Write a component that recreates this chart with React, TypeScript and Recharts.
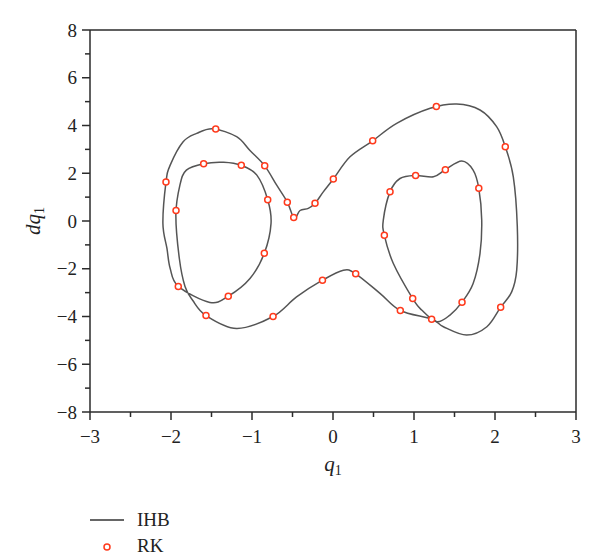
import { ScatterChart, Scatter, XAxis, YAxis, ReferenceLine } from 'recharts'

// phase portrait q1 vs dq1 — IHB solution (line) and RK samples (circles)
const MAIN_LOOP: [number, number][] = [
  [-1.48, 3.86], [-1.19, 3.53], [-1.025, 2.95], [-0.843, 2.31], [-0.695, 1.5],
  [-0.564, 0.79], [-0.48, 0.12], [-0.407, 0.44], [-0.305, 0.53], [-0.222, 0.74],
  [-0.12, 1.22], [0.004, 1.76], [0.21, 2.69], [0.49, 3.36], [0.786, 4.09],
  [1.2, 4.72], [1.527, 4.9], [1.815, 4.65], [2.02, 3.95], [2.127, 3.11],
  [2.226, 1.85], [2.275, -0.2], [2.268, -2.06], [2.206, -2.97], [2.07, -3.61],
  [1.9, -4.43], [1.65, -4.78], [1.363, -4.43], [1.218, -4.11], [0.831, -3.75],
  [0.58, -3.03], [0.28, -2.21], [0.128, -2.06], [-0.13, -2.48], [-0.45, -3.18],
  [-0.74, -4.0], [-1.19, -4.5], [-1.568, -3.96], [-1.733, -3.32], [-1.827, -2.74],
  [-1.897, -1.57], [-1.94, 0.25], [-1.89, 1.5], [-1.81, 2.13], [-1.597, 2.4],
  [-1.35, 2.46], [-1.132, 2.33], [-0.94, 1.92], [-0.806, 0.89], [-0.765, -0.1],
  [-0.848, -1.35], [-1.025, -2.41], [-1.293, -3.15], [-1.52, -3.41], [-1.91, -2.74],
  [-2.01, -1.99], [-2.05, -1.15], [-2.1, -0.1], [-2.062, 1.63], [-2.01, 2.34],
  [-1.85, 3.32], [-1.683, 3.67],
]

const RIGHT_LOOP: [number, number][] = [
  [0.621, 0.04], [0.704, 1.22], [0.827, 1.78], [1.02, 1.91], [1.24, 1.85],
  [1.387, 2.15], [1.59, 2.51], [1.73, 2.13], [1.8, 1.37], [1.836, 0.04],
  [1.815, -1.36], [1.73, -2.62], [1.593, -3.4], [1.444, -3.94], [1.28, -4.22],
  [1.095, -3.73], [0.984, -3.25], [0.745, -1.78], [0.634, -0.6],
]

const RK_POINTS: [number, number][] = [
  [-1.448, 3.85], [-2.062, 1.63], [-1.938, 0.44], [-1.597, 2.4], [-1.132, 2.33],
  [-0.843, 2.31], [-0.806, 0.89], [-0.564, 0.79], [-0.485, 0.15], [-0.222, 0.74],
  [0.004, 1.76], [0.49, 3.36], [1.276, 4.8], [2.127, 3.11], [0.704, 1.22],
  [1.02, 1.91], [1.387, 2.15], [1.8, 1.37], [0.634, -0.6], [0.984, -3.25],
  [0.831, -3.75], [1.218, -4.11], [1.593, -3.4], [2.07, -3.61], [0.28, -2.21],
  [-0.13, -2.48], [-0.74, -4.0], [-1.568, -3.96], [-1.293, -3.15], [-1.91, -2.74],
  [-0.848, -1.35],
]

const X_TICKS = [-3, -2.5, -2, -1.5, -1, -0.5, 0, 0.5, 1, 1.5, 2, 2.5, 3]
const Y_TICKS = [-8, -7, -6, -5, -4, -3, -2, -1, 0, 1, 2, 3, 4, 5, 6, 7, 8]

const FONT = '"Liberation Serif", "DejaVu Serif", serif'
const AXIS = '#2b2b2b'
const LINE = '#555555'
const RK_RED = '#ff3a1c'

const toRows = (pts: [number, number][]) => pts.map(([x, y]) => ({ x, y }))
const fmt = (v: number) => (v < 0 ? `\u2212${-v}` : `${v}`)

// closed catmull-rom spline so the loop goes through every read point
function closedSpline(context: any) {
  let pts: number[][] = []
  return {
    areaStart() {},
    areaEnd() {},
    lineStart() {
      pts = []
    },
    point(x: number, y: number) {
      pts.push([+x, +y])
    },
    lineEnd() {
      const n = pts.length
      if (!n) return
      context.moveTo(pts[0][0], pts[0][1])
      for (let i = 0; i < n; i++) {
        const p0 = pts[(i - 1 + n) % n]
        const p1 = pts[i]
        const p2 = pts[(i + 1) % n]
        const p3 = pts[(i + 2) % n]
        context.bezierCurveTo(
          p1[0] + (p2[0] - p0[0]) / 6,
          p1[1] + (p2[1] - p0[1]) / 6,
          p2[0] - (p3[0] - p1[0]) / 6,
          p2[1] - (p3[1] - p1[1]) / 6,
          p2[0],
          p2[1],
        )
      }
      context.closePath()
    },
  }
}

const NoDot = () => <g />

const RkDot = (props: any) => (
  <circle cx={props.cx} cy={props.cy} r={3} fill="#fff" stroke={RK_RED} strokeWidth={1.5} />
)

const XTick = ({ x, y, payload }: any) => {
  const v = payload.value
  const major = Number.isInteger(v)
  return (
    <g>
      <line x1={x} x2={x} y1={y} y2={y + (major ? 8 : 5)} stroke={AXIS} strokeWidth={1.5} />
      {major && (
        <text x={x} y={y + 31} textAnchor="middle" fontFamily={FONT} fontSize={19} fill="#222">
          {fmt(v)}
        </text>
      )}
    </g>
  )
}

const YTick = ({ x, y, payload }: any) => {
  const v = payload.value
  const major = v % 2 === 0
  return (
    <g>
      <line x1={x - (major ? 8 : 5)} x2={x} y1={y} y2={y} stroke={AXIS} strokeWidth={1.5} />
      {major && (
        <text x={x - 13} y={y} dy="0.35em" textAnchor="end" fontFamily={FONT} fontSize={19} fill="#222">
          {fmt(v)}
        </text>
      )}
    </g>
  )
}

export default function App() {
  return (
    <div style={{ position: 'absolute', left: 0, top: 0, width: 600, height: 558, background: '#fff' }}>
      <ScatterChart width={600} height={558} margin={{ top: 30, right: 24, bottom: 106, left: 30 }}>
        <XAxis
          type="number"
          dataKey="x"
          domain={[-3, 3]}
          ticks={X_TICKS}
          interval={0}
          height={40}
          tickSize={0}
          tickMargin={0}
          tickLine={false}
          tick={<XTick />}
          axisLine={{ stroke: AXIS, strokeWidth: 1.5 }}
          allowDataOverflow
        />
        <YAxis
          type="number"
          dataKey="y"
          domain={[-8, 8]}
          ticks={Y_TICKS}
          interval={0}
          width={60}
          tickSize={0}
          tickMargin={0}
          tickLine={false}
          tick={<YTick />}
          axisLine={{ stroke: AXIS, strokeWidth: 1.5 }}
          allowDataOverflow
        />
        <ReferenceLine y={8} stroke={AXIS} strokeWidth={1.5} />
        <ReferenceLine x={3} stroke={AXIS} strokeWidth={1.5} />
        <Scatter
          name="IHB"
          data={toRows(MAIN_LOOP)}
          line={{ stroke: LINE, strokeWidth: 1.5 }}
          lineType="joint"
          lineJointType={closedSpline as any}
          shape={NoDot}
          isAnimationActive={false}
        />
        <Scatter
          name="IHB inner"
          data={toRows(RIGHT_LOOP)}
          line={{ stroke: LINE, strokeWidth: 1.5 }}
          lineType="joint"
          lineJointType={closedSpline as any}
          shape={NoDot}
          isAnimationActive={false}
        />
        <Scatter name="RK" data={toRows(RK_POINTS)} shape={RkDot} isAnimationActive={false} />
      </ScatterChart>
      <svg
        width={600}
        height={558}
        style={{ position: 'absolute', left: 0, top: 0, pointerEvents: 'none' }}
        fontFamily={FONT}
      >
        <text x={333} y={471} textAnchor="middle" fontSize={21} fill="#222">
          <tspan fontStyle="italic">q</tspan>
          <tspan fontSize={14} dy={4}>1</tspan>
        </text>
        <text x={40} y={221} textAnchor="middle" fontSize={21} fill="#222" transform="rotate(-90 40 221)">
          <tspan fontStyle="italic">dq</tspan>
          <tspan fontSize={14} dy={4}>1</tspan>
        </text>
        <line x1={90} x2={124} y1={520} y2={520} stroke="#333" strokeWidth={1.5} />
        <text x={137} y={526} fontSize={19} fill="#222">IHB</text>
        <circle cx={107} cy={547} r={3} fill="#fff" stroke={RK_RED} strokeWidth={1.5} />
        <text x={137} y={552} fontSize={19} fill="#222">RK</text>
      </svg>
    </div>
  )
}
